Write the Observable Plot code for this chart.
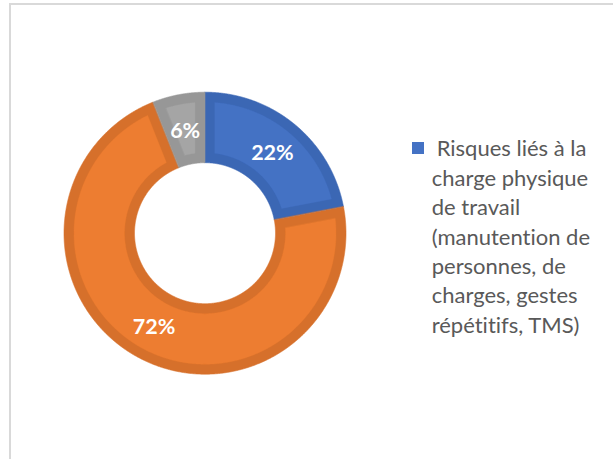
<!DOCTYPE html>
<html><head><meta charset="utf-8">
<script src="https://cdn.jsdelivr.net/npm/d3@7"></script>
<script src="https://cdn.jsdelivr.net/npm/@observablehq/plot@0.6"></script>
<style>
html,body{margin:0;padding:0;background:#fff;}
#wrap{position:relative;width:613px;height:459px;overflow:hidden;background:#fff;}
#frame{position:absolute;left:9px;top:3px;width:700px;height:600px;border:2px solid #d9d9d9;box-sizing:border-box;}
#chart{position:absolute;left:0;top:0;}
#legend{position:absolute;left:412px;top:133.3px;font-family:Lato, sans-serif;font-size:22px;line-height:29.4px;color:#595959;font-variant-ligatures:none;font-feature-settings:"liga" 0;}
#legend .sw{position:absolute;left:0;top:8.7px;width:12px;height:12px;}
#legend .tx{position:absolute;left:19.7px;top:0;width:180px;text-indent:5px;}
</style></head>
<body><div id="wrap"><div id="frame"></div><div id="chart"></div><div id="legend"></div></div>
<script>
const categories = [
  "Risques liés à la charge physique de travail (manutention de personnes, de charges, gestes répétitifs, TMS)",
  "Autres risques",
  "Autres"
];
const values = [22, 72, 6];
const fills = ["#4472C4", "#ED7D31", "#A5A5A5"];
const borders = ["#3B67B4", "#D6702B", "#979797"];
const legendShown = [0];

// geometry (layout)
const cx = 204.5, cy = 232.7, R = 141;
const INNER = 0.5;          // hole size
const BAND = 10 / R;        // darker border band width, in radius units

const arcs = d3.pie().sort(null).value(d => d)(values);

function sector(id, a0, a1, ro, ri, inset, color) {
  const pts = [];
  const oa = inset ? Math.asin(inset / ro) : 0;
  const ia = inset ? Math.asin(inset / ri) : 0;
  const o0 = a0 + oa, o1 = a1 - oa, i0 = a0 + ia, i1 = a1 - ia;
  const step = Math.PI / 720;
  const no = Math.max(4, Math.ceil((o1 - o0) / step));
  for (let k = 0; k <= no; k++) {
    const a = o0 + (o1 - o0) * k / no;
    pts.push({id, color, x: ro * Math.sin(a), y: ro * Math.cos(a)});
  }
  const ni = Math.max(4, Math.ceil((i1 - i0) / step));
  for (let k = 0; k <= ni; k++) {
    const a = i1 - (i1 - i0) * k / ni;
    pts.push({id, color, x: ri * Math.sin(a), y: ri * Math.cos(a)});
  }
  return pts;
}

const outerPts = arcs.flatMap((a, i) => sector("o" + i, a.startAngle, a.endAngle, 1, INNER, 0, borders[i]));
const innerPts = arcs.flatMap((a, i) => sector("i" + i, a.startAngle, a.endAngle, 1 - BAND, INNER + BAND, BAND, fills[i]));
const labels = arcs.map((a, i) => {
  const m = (a.startAngle + a.endAngle) / 2, r = (1 + INNER) / 2;
  return {x: r * Math.sin(m), y: r * Math.cos(m), text: values[i] + "%"};
});

const chart = Plot.plot({
  width: 613, height: 459, margin: 0,
  style: {background: "transparent", overflow: "visible"},
  x: {domain: [-1, 1], range: [cx - R, cx + R], axis: null},
  y: {domain: [-1, 1], range: [cy + R, cy - R], axis: null},
  color: {type: "identity"},
  marks: [
    Plot.line(outerPts, {x: "x", y: "y", z: "id", fill: "color", stroke: "color", strokeWidth: 0.6, curve: "linear-closed"}),
    Plot.line(innerPts, {x: "x", y: "y", z: "id", fill: "color", stroke: "color", strokeWidth: 0.4, curve: "linear-closed"}),
    Plot.text(labels, {x: "x", y: "y", text: "text", fill: "white", fontWeight: "bold", fontSize: 21.5, fontFamily: "Lato", dy: 1.5})
  ]
});
document.getElementById("chart").appendChild(chart);

const lg = document.getElementById("legend");
legendShown.forEach(i => {
  const sw = document.createElement("div");
  sw.className = "sw"; sw.style.background = fills[i];
  const tx = document.createElement("div");
  tx.className = "tx"; tx.textContent = categories[i];
  lg.appendChild(sw); lg.appendChild(tx);
});
</script>
</body></html>
